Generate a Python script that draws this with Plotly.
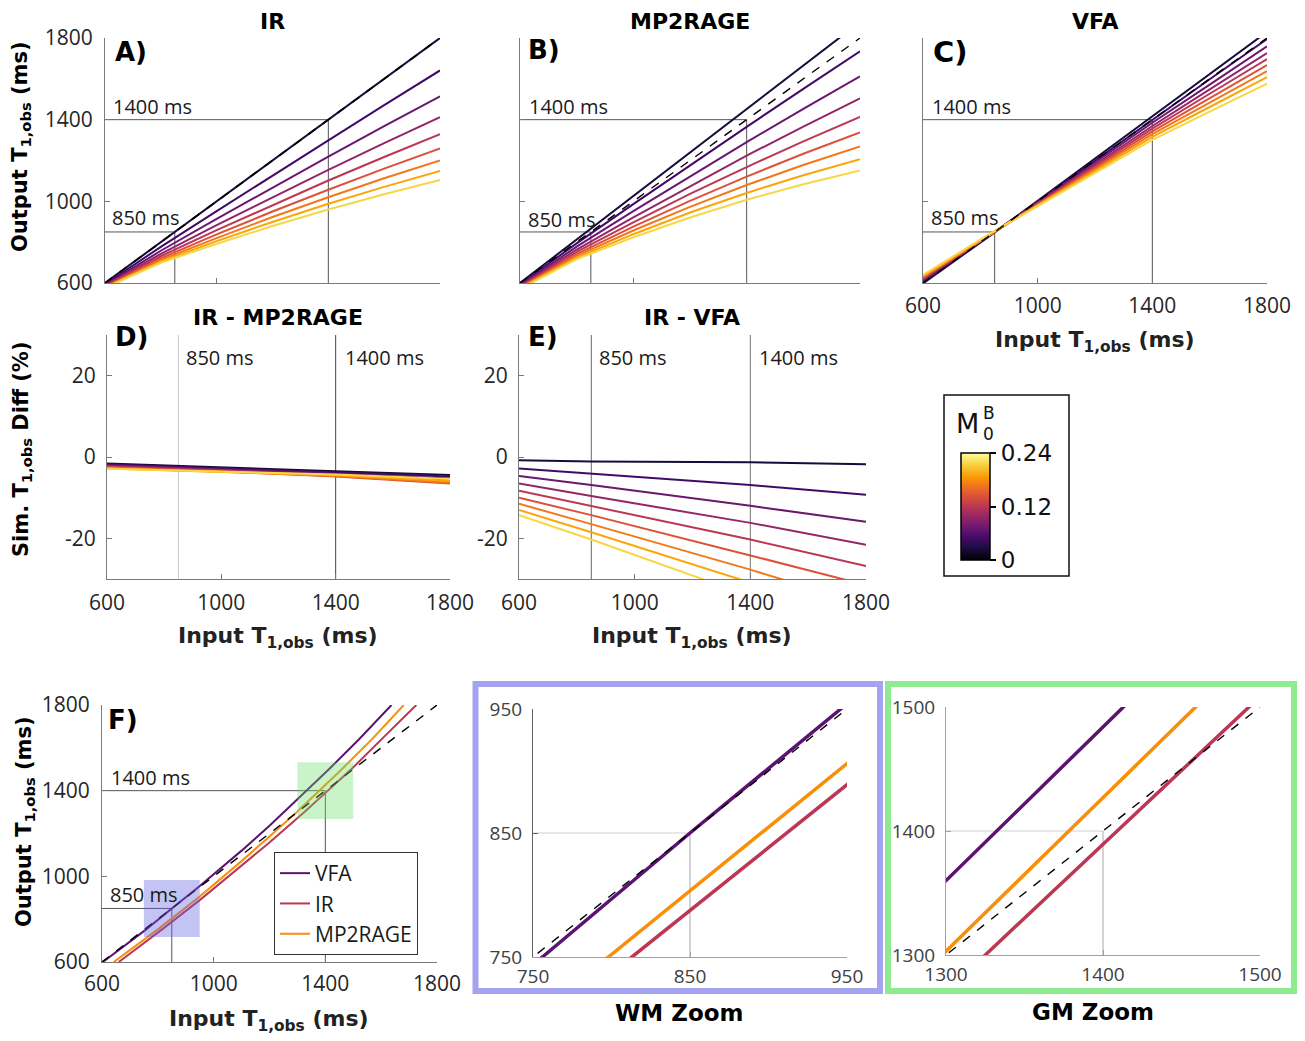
import plotly.graph_objects as go

W, H = 1305, 1041

# ---------------- data ----------------
m0b_values = [0.03, 0.06, 0.09, 0.12, 0.15, 0.18, 0.21, 0.24, 0.27]
m0b_colors = ["#160b39", "#420a68", "#6a176e", "#932667", "#bc3754",
              "#dd513a", "#f37819", "#fca50a", "#f6d746"]

input_t1 = [600, 800, 1000, 1200, 1400, 1600, 1800]
ir_output = [
    [600, 800, 1000, 1200, 1400, 1600, 1800],
    [594, 777, 952, 1127, 1299, 1471, 1641],
    [590, 758, 914, 1068, 1219, 1368, 1514],
    [586, 743, 884, 1021, 1154, 1285, 1412],
    [584, 731, 859, 982, 1102, 1217, 1329],
    [581, 721, 838, 950, 1057, 1160, 1259],
    [579, 713, 820, 923, 1020, 1113, 1200],
    [577, 705, 805, 899, 988, 1071, 1149],
    [576, 699, 792, 879, 960, 1035, 1105],
]
mp2rage_output = [
    [600, 813, 1026, 1239, 1452, 1665, 1878],
    [594, 794, 986, 1176, 1365, 1551, 1735],
    [589, 778, 952, 1123, 1290, 1453, 1612],
    [585, 764, 922, 1075, 1224, 1366, 1504],
    [581, 752, 897, 1036, 1168, 1294, 1413],
    [578, 742, 876, 1002, 1121, 1233, 1337],
    [576, 733, 857, 973, 1080, 1178, 1269],
    [573, 724, 839, 945, 1041, 1128, 1206],
    [571, 717, 824, 921, 1008, 1084, 1151],
]
vfa_input = [600, 850, 1000, 1200, 1400, 1600, 1800]
vfa_output = [
    [598, 848, 1003, 1210, 1417, 1623, 1830],
    [605, 849, 1000, 1200, 1401, 1598, 1795],
    [611, 850, 996, 1190, 1385, 1572, 1759],
    [616, 851, 992, 1181, 1369, 1548, 1726],
    [621, 852, 989, 1173, 1356, 1527, 1697],
    [626, 852, 986, 1164, 1343, 1505, 1667],
    [630, 853, 983, 1156, 1329, 1484, 1638],
    [635, 854, 980, 1148, 1316, 1462, 1608],
    [640, 855, 977, 1139, 1301, 1439, 1576],
]
identity_t1 = [600, 1800]

diff_input_d = [600, 1000, 1400, 1800]
ir_minus_mp2rage = [
    [-1.6, -2.6, -3.5, -4.4],
    [-1.8, -2.8, -3.8, -4.8],
    [-2.0, -3.0, -4.1, -5.3],
    [-2.2, -3.2, -4.4, -5.8],
    [-2.4, -3.4, -4.7, -6.3],
    [-2.5, -3.5, -4.8, -6.5],
    [-2.7, -3.6, -4.7, -6.3],
    [-2.8, -3.6, -4.5, -5.9],
    [-2.9, -3.6, -4.3, -5.4],
]
diff_input_e = [600, 850, 1400, 1800]
ir_minus_vfa = [
    [-0.8, -1.1, -1.3, -1.8],
    [-2.8, -4.1, -6.9, -9.3],
    [-4.7, -6.9, -12.0, -15.9],
    [-6.5, -9.6, -16.2, -21.6],
    [-8.3, -12.0, -20.3, -26.8],
    [-10.0, -14.3, -24.2, -31.5],
    [-11.5, -16.5, -27.7, -36.4],
    [-13.0, -18.5, -30.9, -40.0],
    [-14.3, -20.3, -34.2, -44.2],
]

f_vfa_in = [600, 756, 850, 946, 1100, 1200, 1300, 1413, 1520, 1637]
f_vfa_out = [597, 750, 850, 950, 1120, 1236, 1360, 1500, 1639, 1800]
f_ir_in = [660, 813, 950, 1100, 1200, 1325, 1493, 1610, 1726]
f_ir_out = [600, 750, 889, 1048, 1158, 1300, 1500, 1651, 1800]
f_mp2_in = [642, 798, 950, 1100, 1200, 1300, 1459, 1570, 1681]
f_mp2_out = [600, 750, 906, 1071, 1186, 1303, 1500, 1644, 1800]
method_names = ["VFA", "IR", "MP2RAGE"]
method_colors = ["#5a1470", "#bc3754", "#f98e09"]

wm_box = [750, 950]
gm_box = [1300, 1500]
wm_box_y = [717, 983]
gm_box_y = [1268, 1533]
ref_t1 = [850, 1400]

main_ticks = [600, 1000, 1400, 1800]
diff_ticks = [-20, 0, 20]

# ---------------- helpers ----------------
def xd(x0, x1):
    return [x0 / W, x1 / W]


def yd(y0, y1):
    return [1 - y1 / H, 1 - y0 / H]


def px(x):
    return x / W


def py(y):
    return 1 - y / H


TICK_FONT = dict(family="Open Sans", size=21, color="#262626")
ZOOM_FONT = dict(family="Open Sans", size=19, color="#404040")


def make_axis(domain, rng, tickvals, labels, anchor, line="#7a7a7a",
              font=TICK_FONT, standoff=6, ticktext=None):
    d = dict(domain=domain, range=rng, tickvals=tickvals,
             showticklabels=labels, ticks="inside", ticklen=5, tickwidth=1,
             tickcolor=line, showline=True, linecolor=line, linewidth=1,
             showgrid=False, zeroline=False, tickfont=font, anchor=anchor,
             fixedrange=True, ticklabelstandoff=standoff, automargin=False)
    if ticktext is not None:
        d["ticktext"] = ticktext
    return d


fig = go.Figure()


def add_line(x, y, color, ax, width=2, dash=None, name=None, legend=False):
    fig.add_trace(go.Scatter(
        x=x, y=y, mode="lines", name=name, showlegend=legend,
        line=dict(color=color, width=width, dash=dash),
        xaxis="x" + ax, yaxis="y" + ax, hoverinfo="skip"))


# Panel A: IR
for k in range(len(m0b_values)):
    add_line(input_t1, ir_output[k], m0b_colors[k], "")
add_line(identity_t1, identity_t1, "black", "", width=1.6, dash="dash")
# Panel B: MP2RAGE
for k in range(len(m0b_values)):
    add_line(input_t1, mp2rage_output[k], m0b_colors[k], "2")
add_line(identity_t1, identity_t1, "black", "2", width=1.4, dash="dash")
# Panel C: VFA
for k in range(len(m0b_values)):
    add_line(vfa_input, vfa_output[k], m0b_colors[k], "3")
add_line(identity_t1, identity_t1, "black", "3", width=1.4, dash="dash")
# Panel D
for k in range(len(m0b_values)):
    add_line(diff_input_d, ir_minus_mp2rage[k], m0b_colors[k], "4")
# Panel E
for k in range(len(m0b_values)):
    add_line(diff_input_e, ir_minus_vfa[k], m0b_colors[k], "5")

# Panel F and zooms
f_sets = [(f_vfa_in, f_vfa_out), (f_ir_in, f_ir_out), (f_mp2_in, f_mp2_out)]
for i, (xi, yi) in enumerate(f_sets):
    add_line(xi, yi, method_colors[i], "6", width=2, name=method_names[i], legend=True)
add_line(identity_t1, identity_t1, "black", "6", width=1.4, dash="dash")
for ax in ["7", "8"]:
    for i, (xi, yi) in enumerate(f_sets):
        add_line(xi, yi, method_colors[i], ax, width=3.5)
    add_line(identity_t1, identity_t1, "black", ax, width=1.4, dash="dash")

# colorbar (hidden marker trace)
fig.add_trace(go.Scatter(
    x=[None], y=[None], mode="markers", showlegend=False,
    marker=dict(color=[0], colorscale="Inferno", cmin=0, cmax=0.24, showscale=True,
                colorbar=dict(x=px(961), xanchor="left", xpad=0, ypad=0,
                              y=py(506.5), yanchor="middle",
                              lenmode="pixels", len=107, thickness=29,
                              outlinewidth=1.5, outlinecolor="black",
                              ticks="outside", ticklen=6, tickwidth=1.5, tickcolor="black",
                              tickvals=[0, 0.12, 0.24], ticktext=["0", "0.12", "0.24"],
                              tickfont=dict(family="DejaVu Sans", size=23, color="#111"))),
    xaxis="x", yaxis="y"))

# ---------------- axes ----------------
lay = dict(
    xaxis=make_axis(xd(105, 440), [600, 1800], main_ticks, False, "y"),
    yaxis=make_axis(yd(38, 283), [600, 1800], main_ticks, True, "x", standoff=7),
    xaxis2=make_axis(xd(520, 860), [600, 1800], main_ticks, False, "y2"),
    yaxis2=make_axis(yd(38, 283), [600, 1800], main_ticks, False, "x2"),
    xaxis3=make_axis(xd(923, 1267), [600, 1800], main_ticks, True, "y3", standoff=4),
    yaxis3=make_axis(yd(38, 283), [600, 1800], main_ticks, False, "x3"),
    xaxis4=make_axis(xd(107, 450), [600, 1800], main_ticks, True, "y4", standoff=5),
    yaxis4=make_axis(yd(335, 579), [-30, 30], diff_ticks, True, "x4",
                     ticktext=["-20", "0", "20"]),
    xaxis5=make_axis(xd(519, 866), [600, 1800], main_ticks, True, "y5", standoff=5),
    yaxis5=make_axis(yd(335, 579), [-30, 30], diff_ticks, True, "x5",
                     ticktext=["-20", "0", "20"]),
    xaxis6=make_axis(xd(102, 437), [600, 1800], main_ticks, True, "y6", standoff=3),
    yaxis6=make_axis(yd(705, 962), [600, 1800], main_ticks, True, "x6", standoff=7),
    xaxis7=make_axis(xd(533, 847), wm_box, [750, 850, 950], True, "y7",
                     line="#a0a0a0", font=ZOOM_FONT, standoff=2),
    yaxis7=make_axis(yd(709, 957), wm_box, [750, 850, 950], True, "x7",
                     line="#606060", font=ZOOM_FONT, standoff=6),
    xaxis8=make_axis(xd(946, 1260), gm_box, [1300, 1400, 1500], True, "y8",
                     line="#a0a0a0", font=ZOOM_FONT, standoff=2),
    yaxis8=make_axis(yd(707, 955), gm_box, [1300, 1400, 1500], True, "x8",
                     line="#a0a0a0", font=ZOOM_FONT, standoff=6),
)

# ---------------- shapes ----------------
shapes = []


def seg(ax, x0, y0, x1, y1, color="#555555", width=1):
    shapes.append(dict(type="line", xref="x" + ax, yref="y" + ax,
                       x0=x0, y0=y0, x1=x1, y1=y1, layer="below",
                       line=dict(color=color, width=width)))


for ax in ["", "2", "3", "6"]:
    for r in ref_t1:
        seg(ax, 600, r, r, r)
        seg(ax, r, 600, r, r)
seg("4", ref_t1[0], -30, ref_t1[0], 30, color="#c8c8c8")
seg("4", ref_t1[1], -30, ref_t1[1], 30, color="#444444")
seg("5", ref_t1[0], -30, ref_t1[0], 30, color="#666666")
seg("5", ref_t1[1], -30, ref_t1[1], 30, color="#777777")
seg("7", 750, 850, 850, 850, color="#d0d0d0")
seg("7", 850, 750, 850, 850, color="#a8a8a8")
seg("8", 1300, 1400, 1400, 1400, color="#d0d0d0")
seg("8", 1400, 1300, 1400, 1400, color="#a8a8a8")

# shaded zoom regions in F
shapes.append(dict(type="rect", xref="x6", yref="y6", x0=wm_box[0], x1=wm_box[1],
                   y0=wm_box_y[0], y1=wm_box_y[1], layer="above",
                   fillcolor="rgba(100,100,225,0.38)", line=dict(width=0)))
shapes.append(dict(type="rect", xref="x6", yref="y6", x0=gm_box[0], x1=gm_box[1],
                   y0=gm_box_y[0], y1=gm_box_y[1], layer="above",
                   fillcolor="rgba(100,220,100,0.35)", line=dict(width=0)))
# frames
shapes.append(dict(type="rect", xref="paper", yref="paper", x0=px(475.5), x1=px(880),
                   y0=py(991), y1=py(684), line=dict(color="#a3a3f0", width=6)))
shapes.append(dict(type="rect", xref="paper", yref="paper", x0=px(888), x1=px(1294),
                   y0=py(991), y1=py(684), line=dict(color="#90ea90", width=6)))
shapes.append(dict(type="rect", xref="paper", yref="paper", x0=px(944), x1=px(1069),
                   y0=py(576), y1=py(395), line=dict(color="#111111", width=1.5)))

# ---------------- annotations ----------------
ann = []


def text(x, y, s, size=20, family="Open Sans", xanchor="left", color="#1a1a1a", angle=0):
    ann.append(dict(x=px(x), y=py(y), xref="paper", yref="paper", text=s,
                    showarrow=False, xanchor=xanchor, yanchor="middle",
                    textangle=angle, font=dict(size=size, family=family, color=color)))


BOLD = "DejaVu Sans"
for x, y, s in [(272, 21, "IR"), (690, 21, "MP2RAGE"), (1095, 21, "VFA"),
                (278, 317, "IR - MP2RAGE"), (692, 317, "IR - VFA")]:
    text(x, y, "<b>" + s + "</b>", size=22, family=BOLD, xanchor="center", color="#000")
for x, y, s, sz in [(113, 52, "A)", 26), (526, 50, "B)", 26), (931, 52, "C)", 29),
                    (113, 337, "D)", 26), (526, 337, "E)", 26), (106, 720, "F)", 26)]:
    text(x, y, "<b>" + s + "</b>", size=sz, family=BOLD, color="#000")

for x, y, s in [(111, 107, "1400 ms"), (110, 218, "850 ms"),
                (527, 107, "1400 ms"), (526, 219, "850 ms"),
                (930, 106, "1400 ms"), (929, 218, "850 ms"),
                (184, 357, "850 ms"), (343, 357, "1400 ms"),
                (597, 357, "850 ms"), (757, 357, "1400 ms"),
                (109, 777, "1400 ms"), (108, 894, "850 ms")]:
    text(x, y, s, size=20)

t1obs = "T<sub>1,obs</sub>"
text(21, 147, "<b>Output " + t1obs + " (ms)</b>", size=21, family=BOLD,
     xanchor="center", color="#000", angle=-90)
text(22, 450, "<b>Sim. " + t1obs + " Diff (%)</b>", size=21, family=BOLD,
     xanchor="center", color="#000", angle=-90)
text(25, 822, "<b>Output " + t1obs + " (ms)</b>", size=21, family=BOLD,
     xanchor="center", color="#000", angle=-90)
for x, y in [(1095, 341), (278, 638), (692, 638), (269, 1020)]:
    text(x, y, "<b>Input " + t1obs + " (ms)</b>", size=22, family=BOLD,
         xanchor="center", color="#222")
text(679, 1013, "<b>WM Zoom</b>", size=23, family=BOLD, xanchor="center", color="#000")
text(1093, 1012, "<b>GM Zoom</b>", size=23, family=BOLD, xanchor="center", color="#000")

# colorbar title  M_0^B
text(967, 424, "M", size=27, family="DejaVu Sans", xanchor="center", color="#111")
text(989, 413, "B", size=17, family="DejaVu Sans", xanchor="center", color="#111")
text(988, 434, "0", size=17, family="DejaVu Sans", xanchor="center", color="#111")

fig.update_layout(
    width=W, height=H, margin=dict(l=0, r=0, t=0, b=0, autoexpand=False),
    paper_bgcolor="white", plot_bgcolor="white",
    shapes=shapes, annotations=ann,
    legend=dict(x=px(274), y=py(852), xanchor="left", yanchor="top",
                bgcolor="white", bordercolor="#333333", borderwidth=1,
                font=dict(family="Open Sans", size=21, color="#1a1a1a"),
                itemwidth=30, tracegroupgap=0),
    **lay,
)

fig.write_html("out.html")
